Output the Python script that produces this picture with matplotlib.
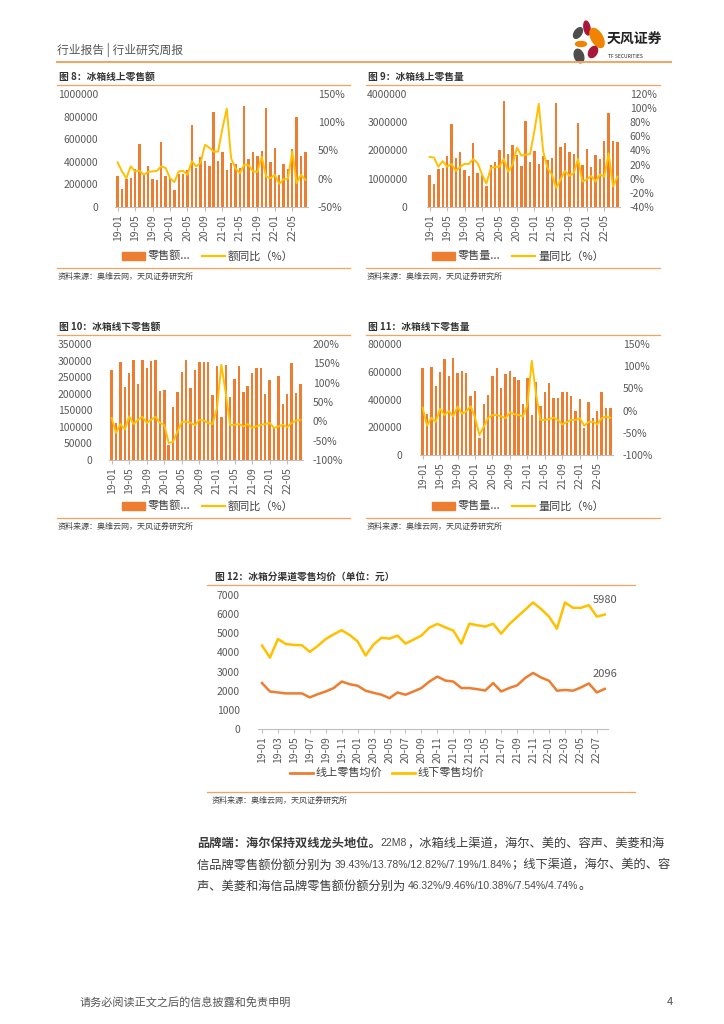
import numpy as np
import matplotlib
matplotlib.use('Agg')
import matplotlib.pyplot as plt
from matplotlib.patches import Rectangle, Ellipse
from matplotlib.ticker import FuncFormatter

plt.rcParams['font.family'] = ['Noto Sans CJK SC', 'DejaVu Sans']

W, H = 724, 1024
ORANGE = '#ED7D31'
GOLD = '#FFC000'
GRAY = '#595959'
RULE = '#F5A25D'

# 19-01 .. 22-08
months = [f'{y}-{m:02d}' for y in (19, 20, 21, 22) for m in range(1, 13)][:44]

# 图8 冰箱线上零售额 / 额同比(%)
online_amt = [276000, 160000, 250000, 255000, 335000, 560000, 285000, 360000, 250000, 235000, 575000,
              276000, 255000, 150000, 290000, 290000, 330000, 727000, 345000, 444000, 403000, 365000,
              838000, 405000, 490000, 330000, 390000, 380000, 347000, 894000, 423000, 488000, 455000,
              500000, 880000, 400000, 523000, 282000, 382000, 340000, 512000, 797000, 450000, 485000]
online_amt_yoy = [29, 13, 1, 22, 13, 14, 7, 12, 13, 14, 22, 19, 1, -6, 13, 14, 7, 31, 22, 28, 60, 55,
                  48, 48, 89, 124, 36, 18, 10, 25, 24, 13, 12, 39, 4, 1, 7, -9, -1, 0, 48, -8, 7, -2]

# 图9 冰箱线上零售量 / 量同比(%)
online_vol = [1140000, 810000, 1340000, 1380000, 1790000, 2950000, 1730000, 1950000, 1310000, 1110000,
              2280000, 1200000, 1150000, 750000, 1500000, 1610000, 2010000, 3760000, 1880000, 2210000,
              1850000, 1450000, 3060000, 1590000, 1980000, 1530000, 1810000, 1660000, 1720000, 3690000,
              2140000, 2260000, 1960000, 1870000, 2980000, 1490000, 2060000, 1420000, 1850000, 1690000,
              2330000, 3340000, 2350000, 2310000]
online_vol_yoy = [31, 30, 17, 25, 17, 21, 11, 17, 21, 21, 28, 22, 6, -7, 15, 17, 17, 28, 10, 20, 44, 33,
                  34, 35, 68, 106, 39, 15, 6, -13, -1, 11, 4, 8, 28, -4, -1, 4, -4, 6, 3, 36, -11, 3]

# 图10 冰箱线下零售额 / 额同比(%)
offline_amt = [272000, 111000, 295000, 221000, 261000, 302000, 229000, 303000, 279000, 298000, 303000,
               208000, 210000, 45000, 160000, 205000, 267000, 303000, 216000, 272000, 297000, 297000,
               297000, 195000, 284000, 130000, 288000, 189000, 243000, 284000, 205000, 223000, 263000,
               279000, 279000, 199000, 240000, 101000, 253000, 169000, 199000, 294000, 201000, 228000]
offline_amt_yoy = [9, -30, -7, -21, 13, -7, 4, 12, -4, 4, 12, -4, -9, -56, -53, -26, -2, 0, -4, -10, 4, 2,
                   -4, -7, 34, 146, 73, -10, -9, -7, -13, -7, -17, -13, -9, -7, -4, -17, -13, -9, -15, -4, 2, 4]

# 图11 冰箱线下零售量 / 量同比(%)
offline_vol = [624000, 295000, 631000, 497000, 595000, 689000, 566000, 701000, 588000, 602000, 588000,
               422000, 461000, 120000, 365000, 432000, 566000, 624000, 485000, 585000, 609000, 562000,
               542000, 365000, 552000, 290000, 523000, 350000, 456000, 521000, 413000, 408000, 451000,
               451000, 422000, 319000, 406000, 192000, 384000, 264000, 314000, 454000, 341000, 341000]
offline_vol_yoy = [7, -34, -16, -25, 4, -10, -1, -13, 9, -7, -2, 10, -16, -55, -36, -17, -10, -10, -13, -17,
                   -4, -8, -10, -13, 13, 112, 35, -21, -21, -19, -16, -21, -31, -26, -21, -21, -17, -34,
                   -26, -25, -31, -17, -13, -16]

# 图12 冰箱分渠道零售均价（元）
online_price = [2400, 1960, 1910, 1860, 1860, 1860, 1650, 1820, 1960, 2140, 2480, 2340, 2260, 2000, 1890,
                1790, 1610, 1910, 1790, 1960, 2140, 2480, 2740, 2530, 2480, 2140, 2140, 2080, 2010, 2400,
                1960, 2140, 2280, 2660, 2930, 2690, 2520, 2000, 2040, 2000, 2170, 2380, 1910, 2096]
offline_price = [4360, 3730, 4700, 4440, 4390, 4380, 4030, 4340, 4700, 4950, 5160, 4910, 4570, 3840, 4420,
                 4770, 4720, 4880, 4460, 4670, 4880, 5300, 5490, 5310, 5140, 4460, 5500, 5420, 5350, 5500,
                 4980, 5470, 5850, 6230, 6610, 6270, 5870, 5240, 6610, 6330, 6330, 6470, 5870, 5980]

fig = plt.figure(figsize=(W / 100, H / 100), dpi=100)
renderer = fig.canvas.get_renderer()

# page overlay in pixel coordinates
page = fig.add_axes([0, 0, 1, 1], zorder=-1)
page.set_xlim(0, W)
page.set_ylim(H, 0)
page.axis('off')


def px_axes(l, t, r, b):
    return fig.add_axes([l / W, 1 - b / H, (r - l) / W, (b - t) / H])


def rule(x0, x1, y, lw=0.9):
    page.plot([x0, x1], [y, y], color=RULE, lw=lw)


def style_axis(ax, lpad):
    for s in ax.spines.values():
        s.set_visible(False)
    ax.spines['bottom'].set_visible(True)
    ax.spines['bottom'].set_color('#BFBFBF')
    ax.tick_params(axis='x', length=3, color='#BFBFBF', labelsize=7.5, labelcolor=GRAY, pad=2)
    ax.tick_params(axis='y', length=0, labelsize=7.5, labelcolor=GRAY, pad=lpad)
    ax.yaxis.set_major_formatter(FuncFormatter(lambda v, p: f'{v:.0f}'))


def bar_chart(box, bars, yoy, ymax, ystep, rlo, rhi, rstep, lpad):
    ax = px_axes(*box)
    x = np.arange(len(bars))
    ax.bar(x, bars, width=0.55, color=ORANGE, zorder=2)
    ax.set_xlim(-0.6, len(bars) - 0.4)
    ax.set_ylim(0, ymax)
    ax.set_yticks(np.arange(0, ymax + 1, ystep))
    ax.set_xticks(x[::4])
    ax.set_xticklabels(months[::4], rotation=90)
    style_axis(ax, lpad)
    ax2 = ax.twinx()
    ax2.plot(x, yoy, color=GOLD, lw=1.4)
    ax2.set_ylim(rlo, rhi)
    ax2.set_yticks(np.arange(rlo, rhi + 1, rstep))
    ax2.yaxis.set_major_formatter(FuncFormatter(lambda v, p: f'{v:.0f}%'))
    for s in ax2.spines.values():
        s.set_visible(False)
    ax2.tick_params(axis='y', length=0, labelsize=7.5, labelcolor=GRAY, pad=7)
    return ax


def block(x0, x1, title, ytitle, ybottom, legend_items, xleg, yleg):
    page.text(x0 + 2, ytitle, title, fontsize=7, fontweight='bold', color='#333333', va='center')
    rule(x0, x1, ytitle + 7.5)
    rule(x0, x1, ybottom)
    page.text(x0 + 1, ybottom + 8, '资料来源：奥维云网，天风证券研究所', fontsize=5.8, color='#404040', va='center')
    x = xleg
    for kind, color, label in legend_items:
        if kind == 'bar':
            page.add_patch(Rectangle((x, yleg - 4), 23, 8, color=color))
            page.text(x + 26, yleg, label, fontsize=8, color='#404040', va='center')
            x += 80
        else:
            page.plot([x, x + 23], [yleg, yleg], color=color, lw=1.6)
            page.text(x + 26, yleg, label, fontsize=8, color='#404040', va='center')


def text_run(x, y, parts):
    # parts: (text, kind) - kind 'b' bold CJK, 'c' CJK, 'n' latin/number
    for s, kind in parts:
        if kind == 'n':
            t = page.text(x, y, s, fontsize=7.5, family='Liberation Sans', color='#4A4A4A', va='center')
        else:
            t = page.text(x, y, s, fontsize=8.8, color='#3A3A3A', va='center',
                          fontweight='bold' if kind == 'b' else 'normal')
        x = t.get_window_extent(renderer).x1


# header
page.text(57, 50, '行业报告 | 行业研究周报', fontsize=8.5, color='#555555', va='center')
rule(57, 671, 62, lw=1.4)
for (cx, cy, w, h, ang, col) in [(587, 28, 6, 14, -10, '#A8173A'), (578, 33, 7, 12, 35, '#4D4D4D'),
                                 (597, 38, 11, 21, -30, '#F08300'), (581, 44, 11, 5, 0, '#F08300'),
                                 (593, 52, 8, 12, 30, '#A8173A'), (579, 56, 9, 14, -20, '#4D4D4D')]:
    page.add_patch(Ellipse((cx, cy), w, h, angle=ang, color=col))
page.text(607, 40, '天风证券', fontsize=10, fontweight='bold', color='#222222', va='center')
page.text(608, 56, 'TF SECURITIES', fontsize=3.6, color='#222222', va='center')

# 图8
bar_chart((115, 94, 308, 207), online_amt, online_amt_yoy, 1000000, 200000, -50, 150, 50, 12)
block(57, 350, '图 8：冰箱线上零售额', 77, 268,
      [('bar', ORANGE, '零售额...'), ('line', GOLD, '额同比（%）')], 122, 256)

# 图9
bar_chart((427, 94, 620, 207), online_vol, online_vol_yoy, 4000000, 1000000, -40, 120, 20, 14)
block(366, 660, '图 9：冰箱线上零售量', 77, 268,
      [('bar', ORANGE, '零售量...'), ('line', GOLD, '量同比（%）')], 432, 256)

# 图10
bar_chart((109, 344, 303, 460), offline_amt, offline_amt_yoy, 350000, 50000, -100, 200, 50, 12)
block(57, 350, '图 10：冰箱线下零售额', 327, 518,
      [('bar', ORANGE, '零售额...'), ('line', GOLD, '额同比（%）')], 122, 506)

# 图11
bar_chart((420, 344, 613, 455), offline_vol, offline_vol_yoy, 800000, 200000, -100, 150, 50, 13)
block(366, 660, '图 11：冰箱线下零售量', 327, 518,
      [('bar', ORANGE, '零售量...'), ('line', GOLD, '量同比（%）')], 432, 506)

# 图12
ax = px_axes(258, 595, 608, 729)
x = np.arange(len(online_price))
ax.plot(x, online_price, color=ORANGE, lw=1.8)
ax.plot(x, offline_price, color=GOLD, lw=1.8)
ax.set_xlim(-0.5, len(x) - 0.6)
ax.set_ylim(0, 7000)
ax.set_yticks(np.arange(0, 7001, 1000))
ax.set_xticks(x[::2])
ax.set_xticklabels(months[::2], rotation=90)
style_axis(ax, 13)
ax.annotate(f'{offline_price[-1]}', (x[-1], offline_price[-1]), xytext=(0, 7), textcoords='offset points',
            ha='center', va='bottom', fontsize=8, color=GRAY)
ax.annotate(f'{online_price[-1]}', (x[-1], online_price[-1]), xytext=(0, 7), textcoords='offset points',
            ha='center', va='bottom', fontsize=8, color=GRAY)
page.text(215, 577, '图 12：冰箱分渠道零售均价（单位：元）', fontsize=7, fontweight='bold', color='#333333', va='center')
rule(207, 635, 584.5)
rule(207, 635, 792)
page.text(212, 800, '资料来源：奥维云网，天风证券研究所', fontsize=5.8, color='#404040', va='center')
page.plot([290, 313], [773, 773], color=ORANGE, lw=2)
page.text(316, 773, '线上零售均价', fontsize=8, color='#404040', va='center')
page.plot([392, 415], [773, 773], color=GOLD, lw=2)
page.text(418, 773, '线下零售均价', fontsize=8, color='#404040', va='center')

# body text
text_run(197, 843, [('品牌端：海尔保持双线龙头地位。', 'b'), ('22M8', 'n'),
                    ('，冰箱线上渠道，海尔、美的、容声、美菱和海', 'c')])
text_run(197, 865, [('信品牌零售额份额分别为 ', 'c'), ('39.43%/13.78%/12.82%/7.19%/1.84%', 'n'),
                    ('；线下渠道，海尔、美的、容', 'c')])
text_run(197, 886, [('声、美菱和海信品牌零售额份额分别为 ', 'c'), ('46.32%/9.46%/10.38%/7.54%/4.74%', 'n'),
                    ('。', 'c')])

# footer
page.text(80, 1002, '请务必阅读正文之后的信息披露和免责申明', fontsize=8, color='#555555', va='center')
page.text(667, 1002, '4', fontsize=8, color='#555555', va='center')

fig.savefig('out.png', dpi=100)
